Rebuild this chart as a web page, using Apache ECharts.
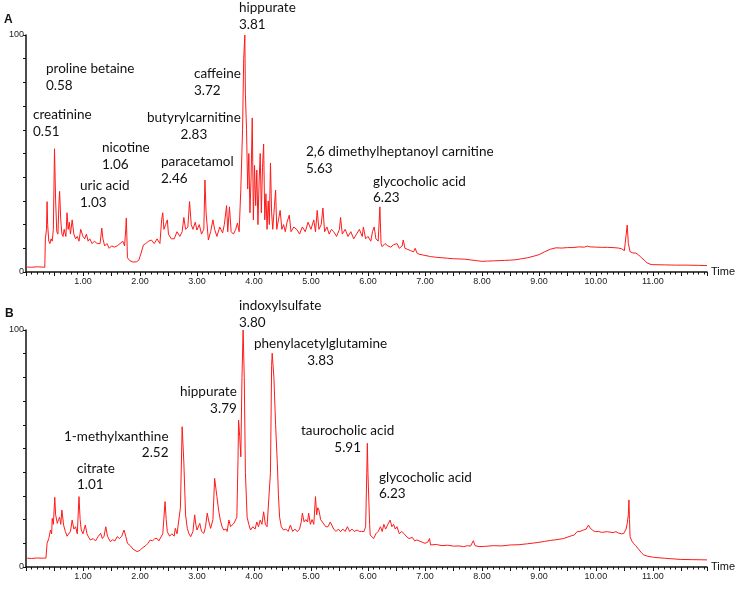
<!DOCTYPE html>
<html>
<head>
<meta charset="utf-8">
<script src="https://cdn.jsdelivr.net/npm/echarts@6/dist/echarts.min.js"></script>
<style>html,body{margin:0;padding:0;background:#fff}#c{width:738px;height:597px}</style>
</head>
<body>
<div id="c"></div>
<script>
// Panel A chromatogram: [retention time (min), relative intensity (%)]
var traceA = [[0.02,2.1],[0.1,2.0],[0.2,2.2],[0.33,2.0],[0.34,14],[0.36,18],[0.37,29.7],[0.38,20],[0.4,13],[0.42,12],[0.44,14],[0.46,13],[0.48,18],[0.5,52],[0.52,30],[0.54,17],[0.56,16],[0.58,30],[0.59,34],[0.61,22],[0.63,16],[0.65,15],[0.67,18],[0.7,15],[0.72,25],[0.74,18],[0.76,21],[0.78,16],[0.81,22],[0.84,16],[0.87,14],[0.9,15],[0.93,13],[0.96,18],[1.0,15],[1.03,14],[1.06,16],[1.09,13],[1.12,14],[1.16,12],[1.2,13],[1.25,12],[1.3,12],[1.33,18.5],[1.35,14],[1.38,11],[1.42,12],[1.46,10],[1.5,11],[1.55,10.5],[1.6,11],[1.65,12],[1.7,13],[1.73,11],[1.75,18],[1.76,22.8],[1.77,15],[1.78,6],[1.82,4.8],[1.88,4.2],[1.94,4.3],[1.98,5],[2.02,8],[2.06,11.4],[2.1,12],[2.15,13],[2.2,13.5],[2.25,12],[2.3,14],[2.35,12],[2.38,22],[2.4,25],[2.42,18],[2.45,20],[2.48,22],[2.5,16],[2.55,14],[2.6,14],[2.65,17],[2.7,15],[2.74,17],[2.77,23],[2.8,18],[2.84,19],[2.87,29.7],[2.9,20],[2.93,18],[2.97,21],[3.0,17.7],[3.04,20],[3.08,16],[3.12,18],[3.14,38.8],[3.16,25],[3.2,13.5],[3.24,17],[3.28,22],[3.31,18],[3.35,15],[3.4,19],[3.45,16.5],[3.48,20],[3.52,28],[3.54,17],[3.57,27.5],[3.6,17],[3.64,16],[3.68,18],[3.71,20.7],[3.74,17],[3.77,35],[3.8,60],[3.82,90],[3.84,100],[3.85,75],[3.87,60],[3.89,35],[3.91,50],[3.93,25],[3.95,40],[3.97,65],[3.99,22],[4.01,45],[4.03,28],[4.05,43],[4.07,20],[4.09,38],[4.11,50],[4.13,25],[4.15,44],[4.17,54],[4.19,22],[4.21,33],[4.23,18],[4.25,30],[4.27,20],[4.29,46],[4.31,25],[4.33,18],[4.36,28],[4.38,34.6],[4.4,18],[4.43,22],[4.46,26],[4.49,18],[4.52,20],[4.55,17],[4.58,21],[4.62,24],[4.65,17],[4.7,19],[4.76,17.7],[4.8,16],[4.85,19],[4.9,17],[4.95,21],[5.0,18],[5.05,22],[5.08,17],[5.11,26],[5.14,18],[5.18,20],[5.21,27],[5.24,17],[5.28,19],[5.32,16],[5.36,18],[5.4,17],[5.45,15],[5.5,18],[5.52,23],[5.55,16],[5.6,18],[5.65,15],[5.7,17],[5.75,14],[5.8,16],[5.85,18],[5.9,15],[5.92,19],[5.96,14],[6.0,15],[6.05,13],[6.08,17],[6.11,19],[6.14,14],[6.18,13],[6.21,27.5],[6.23,12],[6.25,10.7],[6.3,12],[6.35,11],[6.4,10.5],[6.45,11.5],[6.51,12],[6.55,10],[6.6,11],[6.62,13.5],[6.65,10],[6.7,9.5],[6.75,9],[6.8,8.5],[6.83,10],[6.86,8],[6.9,7.5],[7.0,7],[7.1,6.5],[7.2,6.2],[7.3,6],[7.4,5.8],[7.5,5.6],[7.6,5.5],[7.7,5.4],[7.8,5.1],[7.9,4.8],[8.0,4.5],[8.1,4.6],[8.2,4.7],[8.3,4.8],[8.4,4.9],[8.5,5],[8.6,5.2],[8.7,5.6],[8.8,6],[8.9,6.6],[9.0,7.3],[9.1,8.5],[9.2,9.6],[9.3,10.2],[9.4,10.1],[9.5,10.3],[9.6,10.3],[9.7,10.6],[9.8,10.5],[9.85,10.9],[9.9,10.6],[10.0,10.5],[10.1,10.4],[10.2,10.4],[10.3,10.3],[10.4,10.1],[10.45,9.8],[10.5,9],[10.53,9.5],[10.55,19.8],[10.57,12],[10.6,8.6],[10.65,8],[10.7,8],[10.75,7.2],[10.8,6],[10.85,5],[10.9,3.8],[10.95,3.3],[11.0,3.1],[11.2,3],[11.4,2.9],[11.6,2.9],[11.8,2.8],[11.95,2.7]];

// Panel B chromatogram
var traceB = [[0.02,3.7],[0.1,3.6],[0.2,3.8],[0.3,3.7],[0.35,3.8],[0.37,10],[0.4,12],[0.43,15.6],[0.45,14],[0.46,20.5],[0.48,18],[0.505,29.4],[0.52,22],[0.55,18.4],[0.57,20],[0.59,21],[0.61,18],[0.63,24],[0.66,17.7],[0.69,15],[0.72,13],[0.75,12.8],[0.78,15],[0.81,19.8],[0.84,16],[0.87,17],[0.9,14],[0.93,29.7],[0.95,20],[0.97,15.6],[1.0,14],[1.04,17.7],[1.07,14],[1.1,12.5],[1.13,11.4],[1.18,12],[1.22,11],[1.27,13],[1.31,14.2],[1.34,12],[1.37,13],[1.4,17],[1.43,13],[1.48,10.7],[1.52,11.5],[1.56,11],[1.6,12.8],[1.64,12],[1.68,13],[1.72,15.6],[1.75,13],[1.78,10],[1.83,9],[1.88,7.5],[1.95,6.5],[2.0,7],[2.04,8],[2.07,7.9],[2.1,9],[2.14,10],[2.18,11.4],[2.22,11],[2.26,12],[2.3,12],[2.33,11],[2.36,10.7],[2.4,14],[2.44,27.6],[2.46,20],[2.48,14.9],[2.52,13],[2.56,14],[2.6,13],[2.62,16.3],[2.65,14],[2.68,14],[2.71,25],[2.74,59.2],[2.77,44],[2.8,22],[2.83,16.3],[2.86,14],[2.89,12.8],[2.93,15],[2.96,22],[2.98,18],[3.0,15.6],[3.05,18.4],[3.08,15],[3.12,14.2],[3.15,17],[3.18,22.7],[3.21,19],[3.24,16.3],[3.28,20],[3.31,37.4],[3.35,29.7],[3.38,24],[3.41,19.8],[3.44,17],[3.47,15.6],[3.51,16],[3.53,15],[3.56,19.8],[3.59,17],[3.62,17],[3.65,18.5],[3.68,17.7],[3.7,21],[3.72,45],[3.73,62],[3.75,55],[3.77,46.5],[3.79,80],[3.81,100],[3.83,80],[3.85,40],[3.88,21],[3.91,18],[3.94,15.6],[3.98,17],[4.02,16],[4.05,19],[4.08,17],[4.11,19.8],[4.14,18],[4.17,23.3],[4.2,18],[4.23,17],[4.26,16.3],[4.29,40],[4.31,85],[4.32,90.2],[4.35,80],[4.38,60],[4.41,43.8],[4.43,30],[4.45,21],[4.48,17],[4.52,15.6],[4.56,16],[4.6,15],[4.64,17.7],[4.68,15],[4.72,16],[4.76,14.9],[4.8,16],[4.83,19],[4.85,22.7],[4.88,19],[4.91,20],[4.94,19],[4.96,22.7],[4.99,18],[5.02,20],[5.05,18],[5.08,29.7],[5.1,22],[5.12,25],[5.14,24],[5.17,20],[5.2,19],[5.22,18.4],[5.26,17],[5.3,17],[5.34,19],[5.37,19.8],[5.4,16],[5.44,15],[5.48,16],[5.52,14.9],[5.56,16],[5.6,15],[5.64,17],[5.68,15],[5.72,16],[5.76,15],[5.81,15.6],[5.85,15],[5.89,15],[5.93,14.9],[5.96,17],[5.98,40],[5.99,52.2],[6.0,40],[6.01,32.5],[6.03,18],[6.04,13.5],[6.07,13],[6.1,12],[6.14,14],[6.18,15],[6.22,17],[6.25,15],[6.28,18],[6.31,16],[6.35,18],[6.39,19.8],[6.42,17],[6.45,18],[6.48,16],[6.51,17],[6.55,14],[6.59,15],[6.63,14.2],[6.67,13],[6.72,12],[6.78,12.5],[6.82,11],[6.86,11.4],[6.9,11],[6.95,10.5],[7.0,10],[7.05,10.5],[7.08,12],[7.1,9.3],[7.2,9.5],[7.3,9],[7.4,9.2],[7.5,8.8],[7.6,8.9],[7.68,8.6],[7.75,9],[7.8,8.8],[7.85,11.1],[7.88,9],[7.95,8.6],[8.05,8.7],[8.2,9],[8.35,8.9],[8.5,9.3],[8.65,9.4],[8.8,9.8],[8.97,10.3],[9.1,10.8],[9.2,11.2],[9.3,11.5],[9.43,12],[9.55,13],[9.62,13.5],[9.67,14.9],[9.72,15],[9.78,15.6],[9.83,16],[9.87,17.7],[9.9,16.5],[9.94,15.5],[9.99,14.9],[10.05,15],[10.1,14.6],[10.2,14.9],[10.3,14.5],[10.35,14.9],[10.4,14.3],[10.45,14],[10.49,14.2],[10.53,16],[10.55,18.4],[10.57,22],[10.58,28.3],[10.59,20],[10.6,12.8],[10.63,11],[10.66,10],[10.7,9],[10.75,7.5],[10.8,6],[10.84,5.1],[10.9,4.6],[11.01,4.1],[11.2,3.7],[11.48,3.2],[11.7,3.1],[11.95,3.0]];

// Peak annotations: compound name and retention time text
var namesA = ['hippurate','proline betaine','caffeine','creatinine','butyrylcarnitine','nicotine','paracetamol','2,6 dimethylheptanoyl carnitine','uric acid','glycocholic acid'];
var rtA    = ['3.81','0.58','3.72','0.51','2.83','1.06','2.46','5.63','1.03','6.23'];
var namesB = ['indoxylsulfate','phenylacetylglutamine','hippurate','1-methylxanthine','taurocholic acid','citrate','glycocholic acid'];
var rtB    = ['3.80','3.83','3.79','2.52','5.91','1.01','6.23'];
var panelTags = ['A','B'];
var xTickLabels = ['1.00','2.00','3.00','4.00','5.00','6.00','7.00','8.00','9.00','10.00','11.00'];

// Layout (pixel positions of annotation blocks): [x, yName, yRT, rtAlign]
var layoutA = [[239,8,25,'left'],[46,69,86,'left'],[194,74,91,'left'],[33,115,132,'left'],[147,118,135,'center'],[102,148,165,'left'],[161,162,179,'left'],[306,152,169,'left'],[80,186,203,'left'],[373,182,198,'left']];
var layoutB = [[239,306,323,'left'],[254,344,361,'center'],[180,392,409,'right'],[64,437,453,'right'],[301,431,448,'center'],[77,469,485,'left'],[379,478,494,'left']];

var chart = echarts.init(document.getElementById('c'), null, {renderer:'canvas'});
var annFont = '13.5px Lato';
var graphics = [];
function addAnn(names, rts, layout) {
  names.forEach(function (n, i) {
    var L = layout[i];
    graphics.push({type:'text', x:L[0], y:L[1], style:{text:n, font:annFont, fill:'#111', align:'left', verticalAlign:'middle', textAlign:'left', textVerticalAlign:'middle'}, silent:true});
    graphics.push({type:'text', x:L[0], y:L[2], _align:L[3], _name:n, style:{text:rts[i], font:annFont, fill:'#111', align:'left', verticalAlign:'middle', textAlign:'left', textVerticalAlign:'middle'}, silent:true});
  });
}
addAnn(namesA, rtA, layoutA);
addAnn(namesB, rtB, layoutB);
var ctx = document.createElement('canvas').getContext('2d');
ctx.font = annFont;
graphics.forEach(function (g) {
  if (g._align && g._align !== 'left') {
    var wn = ctx.measureText(g._name).width;
    var wr = ctx.measureText(g.style.text).width;
    g.x = g._align === 'center' ? g.x + (wn - wr) / 2 : g.x + wn - wr;
  }
  delete g._align; delete g._name;
});
graphics.push({type:'text', x:4, y:20, style:{text:panelTags[0], font:'bold 12px "Liberation Sans", Arial', fill:'#111', verticalAlign:'middle', textVerticalAlign:'middle'}});
graphics.push({type:'text', x:5, y:314, style:{text:panelTags[1], font:'bold 12px "Liberation Sans", Arial', fill:'#111', verticalAlign:'middle', textVerticalAlign:'middle'}});

function xAxis(gi) {
  return {
    type:'value', gridIndex:gi, min:0, max:11.95, interval:0.5,
    name:'Time', nameLocation:'end', nameGap:4,
    nameTextStyle:{fontFamily:'"Liberation Sans", Arial', fontSize:11, color:'#111', verticalAlign:'middle'},
    axisLine:{show:true, onZero:false, lineStyle:{color:'#111', width:1.5}},
    axisTick:{show:true, length:4, lineStyle:{color:'#111', width:1}},
    minorTick:{show:true, splitNumber:5, length:2.5, lineStyle:{color:'#111', width:1}},
    axisLabel:{show:true, interval:0, margin:5, fontFamily:'"Liberation Sans", Arial', fontSize:9, color:'#222',
      showMinLabel:true, showMaxLabel:true, hideOverlap:false,
      formatter:function (v) { var k = Math.round(v); return (Math.abs(v-k)<1e-6 && k>=1 && k<=xTickLabels.length) ? xTickLabels[k-1] : ''; }},
    splitLine:{show:false}
  };
}
function yAxis(gi) {
  return {
    type:'value', gridIndex:gi, min:0, max:100, interval:10,
    name:'%', nameLocation:'middle', nameRotate:90, nameGap:7,
    nameTextStyle:{fontFamily:'"Liberation Sans", Arial', fontSize:9, color:'#222'},
    axisLine:{show:true, lineStyle:{color:'#111', width:1.5}},
    axisTick:{show:true, length:3, lineStyle:{color:'#111', width:1}},
    axisLabel:{show:true, margin:2, fontFamily:'"Liberation Sans", Arial', fontSize:9, color:'#222',
      formatter:function (v) { return (v===0||v===100) ? String(v) : ''; }},
    splitLine:{show:false}
  };
}

chart.setOption({
  animation:false,
  backgroundColor:'#fff',
  grid:[{left:26, right:31, top:35, height:237, containLabel:false, outerBoundsMode:'none'},
        {left:26, right:31, top:330, height:237, containLabel:false, outerBoundsMode:'none'}],
  xAxis:[xAxis(0), xAxis(1)],
  yAxis:[yAxis(0), yAxis(1)],
  series:[
    {type:'line', xAxisIndex:0, yAxisIndex:0, data:traceA, showSymbol:false, smooth:false, sampling:'none', lineStyle:{color:'#ff1a1a', width:1}, itemStyle:{color:'#ff1a1a'}},
    {type:'line', xAxisIndex:1, yAxisIndex:1, data:traceB, showSymbol:false, smooth:false, sampling:'none', lineStyle:{color:'#ff1a1a', width:1}, itemStyle:{color:'#ff1a1a'}}
  ],
  graphic:graphics
});
</script>
</body>
</html>
